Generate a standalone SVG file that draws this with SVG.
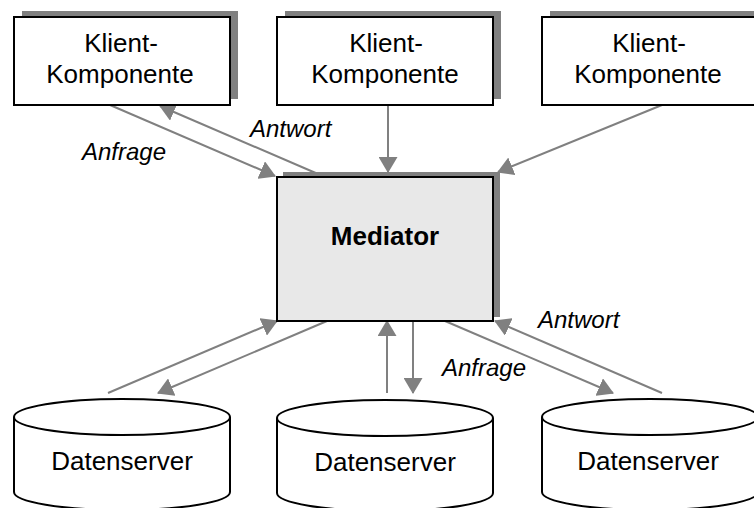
<svg xmlns="http://www.w3.org/2000/svg" width="754" height="508" viewBox="0 0 754 508">
  <style>
    .lbl { font-family: "Liberation Sans", Arial, sans-serif; font-size: 26px; fill: #000; text-anchor: middle; }
    .bold { font-weight: bold; }
    .ital { font-family: "Liberation Sans", Arial, sans-serif; font-size: 24px; font-style: italic; fill: #000; }
    .box { fill: #fff; stroke: #000; stroke-width: 2; }
    .shadow { fill: #808080; }
    .cyl { fill: #fff; stroke: #000; stroke-width: 2; }
    .conn { stroke: #808080; stroke-width: 2; fill: none; marker-end: url(#head); }
  </style>
  <defs>
    <marker id="head" markerUnits="userSpaceOnUse" markerWidth="16" markerHeight="19" viewBox="0 0 16 19" refX="15" refY="9.5" orient="auto">
      <path d="M0,0 L16,9.5 L0,19 Z" fill="#808080"/>
    </marker>
  </defs>

  <!-- connectors -->
  <g id="connectors">
    <line class="conn" x1="110" y1="105" x2="275" y2="176"/>
    <line class="conn" x1="325" y1="177" x2="160" y2="106"/>
    <line class="conn" x1="388" y1="105" x2="388" y2="172"/>
    <line class="conn" x1="662" y1="105" x2="498" y2="172"/>
    <line class="conn" x1="108" y1="393" x2="277" y2="321"/>
    <line class="conn" x1="327" y1="321" x2="158" y2="393"/>
    <line class="conn" x1="387" y1="393" x2="387" y2="321"/>
    <line class="conn" x1="413" y1="321" x2="413" y2="393"/>
    <line class="conn" x1="445" y1="321" x2="613" y2="393"/>
    <line class="conn" x1="662" y1="393" x2="495" y2="321"/>
  </g>

  <!-- connector labels -->
  <g id="labels">
    <text class="ital" x="250" y="137">Antwort</text>
    <text class="ital" x="82" y="160">Anfrage</text>
    <text class="ital" x="538" y="328">Antwort</text>
    <text class="ital" x="442" y="376">Anfrage</text>
  </g>

  <!-- client components -->
  <g id="client1">
    <rect class="shadow" x="22" y="11" width="216" height="88"/>
    <rect class="box" x="14" y="17" width="216" height="88"/>
    <text class="lbl" x="121" y="52">Klient-</text>
    <text class="lbl" x="120" y="83">Komponente</text>
  </g>
  <g id="client2">
    <rect class="shadow" x="285" y="11" width="216" height="88"/>
    <rect class="box" x="277" y="17" width="216" height="88"/>
    <text class="lbl" x="386" y="52">Klient-</text>
    <text class="lbl" x="385" y="83">Komponente</text>
  </g>
  <g id="client3">
    <rect class="shadow" x="550" y="11" width="216" height="88"/>
    <rect class="box" x="542" y="17" width="216" height="88"/>
    <text class="lbl" x="649" y="52">Klient-</text>
    <text class="lbl" x="648" y="83">Komponente</text>
  </g>

  <!-- mediator -->
  <g id="mediator">
    <rect class="shadow" x="283" y="172" width="217" height="145"/>
    <rect x="277" y="177" width="216" height="144" fill="#e8e8e8" stroke="#000" stroke-width="2"/>
    <text class="lbl bold" x="385" y="245">Mediator</text>
  </g>

  <!-- data servers -->
  <g id="server1">
    <path class="cyl" d="M14,417 A108,18 0 0,1 230,417 L230,492 A108,18 0 0,1 14,492 Z"/>
    <path class="cyl" fill="none" d="M14,417 A108,18 0 0,0 230,417"/>
    <text class="lbl" x="122" y="470">Datenserver</text>
  </g>
  <g id="server2">
    <path class="cyl" d="M277,418 A108,18 0 0,1 493,418 L493,493 A108,18 0 0,1 277,493 Z"/>
    <path class="cyl" fill="none" d="M277,418 A108,18 0 0,0 493,418"/>
    <text class="lbl" x="385" y="471">Datenserver</text>
  </g>
  <g id="server3">
    <path class="cyl" d="M542,417 A108,18 0 0,1 758,417 L758,492 A108,18 0 0,1 542,492 Z"/>
    <path class="cyl" fill="none" d="M542,417 A108,18 0 0,0 758,417"/>
    <text class="lbl" x="648" y="470">Datenserver</text>
  </g>
</svg>
